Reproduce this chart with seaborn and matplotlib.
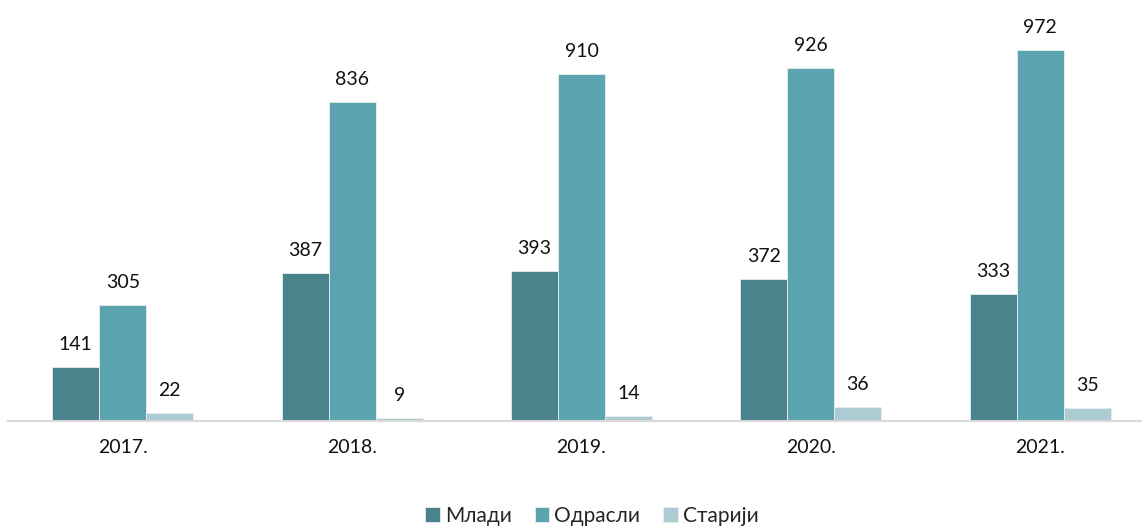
import pandas as pd
import numpy as np
import matplotlib.pyplot as plt
import seaborn as sns

# data
years = ['2017.', '2018.', '2019.', '2020.', '2021.']
groups = ['Млади', 'Одрасли', 'Старији']
mladi = [141, 387, 393, 372, 333]
odrasli = [305, 836, 910, 926, 972]
stariji = [22, 9, 14, 36, 35]
colors = ['#4A838B', '#5BA3AF', '#ADCBD2']

df = pd.DataFrame({
    'year': years * 3,
    'group': [g for g in groups for _ in years],
    'value': mladi + odrasli + stariji,
})

sns.set_style('white')
plt.rcParams['font.family'] = ['Lato', 'DejaVu Sans']

fig = plt.figure(figsize=(11.42, 5.27), dpi=100)
ax = fig.add_axes([8 / 1142, 1 - 421 / 527, 1147 / 1142, 421 / 527])

sns.barplot(data=df, x='year', y='value', hue='group', hue_order=groups,
            palette=colors, saturation=1, width=0.615, gap=0,
            edgecolor='#E8EEEF', linewidth=0.6, ax=ax)

for cont in ax.containers:
    ax.bar_label(cont, padding=10, fontsize=14, color='#111111')

ax.set_ylim(0, 1103)
ax.set_xlim(-0.5, 4.5)
ax.set_xlabel('')
ax.set_ylabel('')
ax.set_yticks([])
ax.tick_params(axis='x', length=0, labelsize=14, pad=13, colors='#111111')
for s in ['top', 'right', 'left']:
    ax.spines[s].set_visible(False)
ax.spines['bottom'].set_color('#D9D9D9')
ax.spines['bottom'].set_linewidth(1.5)

ax.legend(loc='center', bbox_to_anchor=(592 / 1142, 1 - 516 / 527),
          bbox_transform=fig.transFigure, ncol=3, frameon=False,
          fontsize=15, handlelength=0.7, handleheight=0.7,
          handletextpad=0.25, columnspacing=1.1, borderpad=0.1)

plt.savefig('out.png', dpi=100)
plt.close()
